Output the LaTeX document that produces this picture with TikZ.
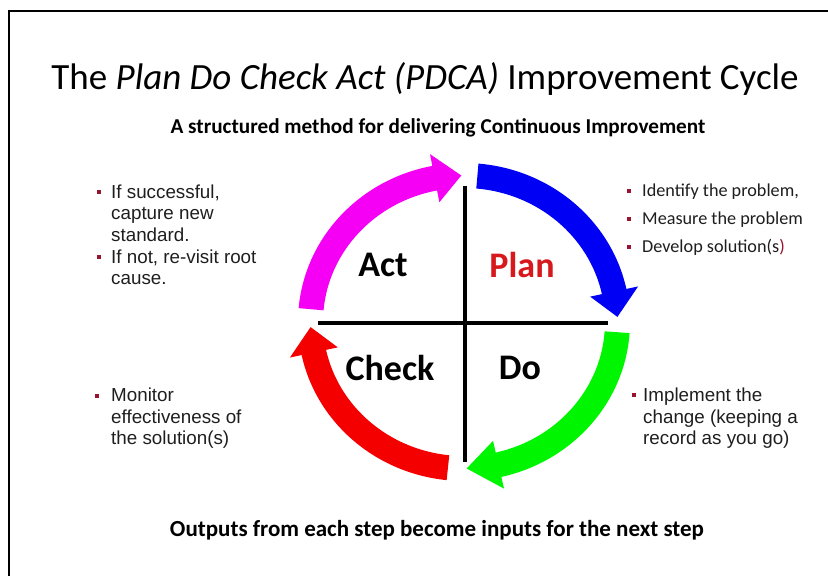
\documentclass[tikz,border=0pt]{standalone}
\usepackage{fontspec}
\setmainfont{Carlito}
\newfontfamily\arialfont{Liberation Sans}
\definecolor{bulletred}{RGB}{150,20,45}
\definecolor{planred}{RGB}{215,25,30}
\definecolor{cyblue}{RGB}{0,0,245}
\definecolor{cygreen}{RGB}{0,245,0}
\definecolor{cyred}{RGB}{245,0,0}
\definecolor{cymagenta}{RGB}{245,0,245}
\definecolor{notegray}{RGB}{30,30,30}
\begin{document}
\begin{tikzpicture}[x=1pt,y=1pt,
    quarter/.style={font=\fontsize{36}{40}\selectfont\bfseries},
    notes/.style={anchor=base west,align=left,inner sep=0pt,text=notegray,font=\arialfont\fontsize{18.8}{21.7}\selectfont},
    bullet/.style={fill=bulletred}]
    \useasboundingbox (0,0) rectangle (828,576);
    % keret
    \draw[line width=2.5] (9,0) -- (9,565) -- (828,565);
    % cimek
    \node (title) at (425,497) {\fontsize{37}{42}\selectfont The \textit{Plan Do Check Act (PDCA)} Improvement Cycle};
    \node (subtitle) at (438,448) {\fontsize{21.2}{24}\selectfont\bfseries A structured method for delivering Continuous Improvement};
    \node (footer) at (437,46) {\fontsize{23}{26}\selectfont\bfseries Outputs from each step become inputs for the next step};
    % a kor negy nyila, ellipszis menten
    \begin{scope}[shift={(464,254)}]
        \fill[cyblue] (85:166 and 159) arc[start angle=85,end angle=12,x radius=166,y radius=159] -- (12:178 and 171) -- (2:153.5 and 146.5) -- (12:129 and 122) -- (12:141 and 134) arc[start angle=12,end angle=85,x radius=141,y radius=134] -- cycle;
        \fill[cygreen] (-4:166 and 159) arc[start angle=-4,end angle=-77,x radius=166,y radius=159] -- (-77:178 and 171) -- (-89:153.5 and 146.5) -- (-77:129 and 122) -- (-77:141 and 134) arc[start angle=-77,end angle=-4,x radius=141,y radius=134] -- cycle;
        \fill[cyred] (-96:166 and 159) arc[start angle=-96,end angle=-168,x radius=166,y radius=159] -- (-168:178 and 171) -- (-178:153.5 and 146.5) -- (-168:129 and 122) -- (-168:141 and 134) arc[start angle=-168,end angle=-96,x radius=141,y radius=134] -- cycle;
        \fill[cymagenta] (175:166 and 159) arc[start angle=175,end angle=101,x radius=166,y radius=159] -- (101:178 and 171) -- (91:153.5 and 146.5) -- (101:129 and 122) -- (101:141 and 134) arc[start angle=101,end angle=175,x radius=141,y radius=134] -- cycle;
    \end{scope}
    % kereszt
    \draw[line width=4] (465,390) -- (465,114);
    \draw[line width=4] (318,253) -- (608,253);
    % negyedek
    \node[quarter] (act) at (383,311) {Act};
    \node[quarter,text=planred] (plan) at (522,311) {Plan};
    \node[quarter] (check) at (390,208) {Check};
    \node[quarter] (do) at (520,208) {Do};
    % megjegyzesek (az also sor alapvonalahoz igazitva)
    \node[notes] (actnotes) at (111,291) {If successful,\\capture new\\standard.\\If not, re-visit root\\cause.};
    \node[notes,font=\fontsize{18.2}{28}\selectfont] (plannotes) at (642,323) {Identify the problem,\\Measure the problem\\Develop solution(s\textcolor{bulletred}{)}};
    \node[notes] (checknotes) at (111,131) {Monitor\\effectiveness of\\the solution(s)};
    \node[notes] (donotes) at (643,131) {Implement the\\change (keeping a\\record as you go)};
    % pontok
    \fill[bullet] (97,382) rectangle ++(4,4);
    \fill[bullet] (97,317) rectangle ++(4,4);
    \fill[bullet] (627,383) rectangle ++(4,4);
    \fill[bullet] (627,355) rectangle ++(4,4);
    \fill[bullet] (627,327) rectangle ++(4,4);
    \fill[bullet] (95,178) rectangle ++(4,4);
    \fill[bullet] (632,179) rectangle ++(4,4);
\end{tikzpicture}
\end{document}
